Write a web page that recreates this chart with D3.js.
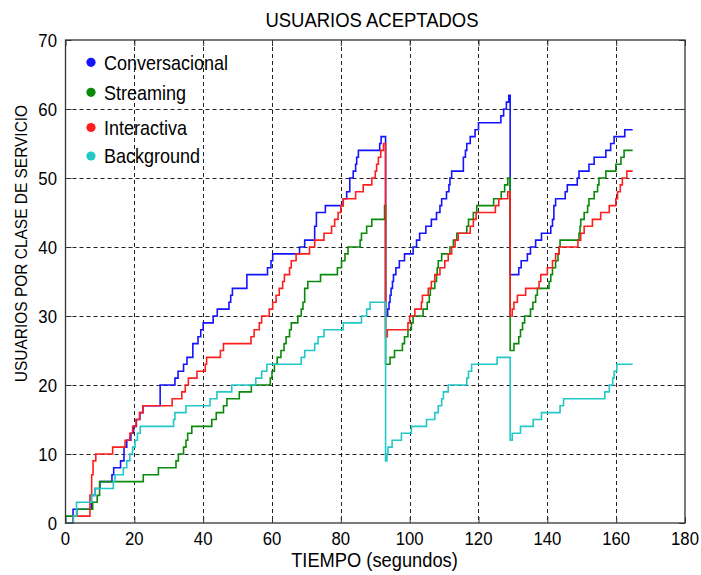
<!DOCTYPE html>
<html>
<head>
<meta charset="utf-8">
<script src="https://cdn.jsdelivr.net/npm/d3@7"></script>
<style>
  body { margin: 0; background: #fff; }
  text { font-family: "Liberation Sans", Arial, sans-serif; fill: #000; }
</style>
</head>
<body>
<svg id="chart" width="701" height="575"></svg>
<script>
// Axis ticks
const xTicks = d3.range(0, 181, 20);
const yTicks = d3.range(0, 71, 10);

// Series labels and colours (legend order = drawing order)
const seriesNames = ["Conversacional", "Streaming", "Interactiva", "Background"];
const seriesColors = ["#1414ff", "#0a8a0a", "#ff1e1e", "#22c8c8"];

// Accepted users per class: [time (s), users] — step series
const conversacional = [[0,0],[2.2,2],[7.5,4],[8.5,5],[10,6],[13.5,7],[14,8],[16,9],[17,11],[17.8,12],[19,13],[19.8,14],[20.6,15],[21.6,16],[22.5,17],[27.5,20],[31.8,21],[32.7,22],[34.3,23],[35.3,24],[37,26],[38.5,27],[39.3,28],[40,29],[42.9,30],[44.1,31],[47.5,32],[48,33],[48.5,34],[52.7,36],[58.7,37],[59.7,38],[60.2,39],[68,40],[69.5,41],[72.4,43],[72.9,45],[75.5,46],[80.7,47],[81.7,48],[82.6,50],[83.6,51],[84.3,52],[84.6,53],[85.1,54],[91.3,55],[91.7,56],[93,30],[93.6,31],[94,32],[94.3,33],[94.6,34],[95,35],[95.3,36],[96,37],[97,38],[98.5,39],[101,40],[102,41],[102.9,42],[104.7,43],[106.3,44],[107.8,45],[108.8,46],[109.3,47],[110.7,48],[111.4,49],[111.7,50],[112.2,51],[115.6,53],[116.2,54],[116.6,55],[117.6,56],[119,57],[120,58],[126.5,59],[127.3,60],[128.1,61],[128.8,62],[129.2,36],[131.7,37],[132.4,38],[134.2,39],[135.1,40],[136.6,41],[138.3,42],[141,43],[141.5,44],[141.9,46],[142.4,47],[145.2,48],[145.8,49],[148.7,50],[149.2,51],[152.1,52],[153.6,53],[157,54],[158.4,55],[159.4,56],[162.5,57],[164.8,57]];

const streaming = [[0,1],[3.3,2],[7.9,3],[9.2,4],[9.9,6],[22.6,7],[27,8],[32.1,9],[32.8,10],[34.3,11],[35,12],[35.5,13],[36.7,14],[42.5,15],[43.8,16],[45.9,17],[46.9,18],[50.5,19],[54,20],[59.5,21],[60,22],[60.7,23],[61.5,24],[62.6,25],[63.5,26],[64.1,27],[65.1,28],[65.6,29],[67.5,30],[68.5,31],[69,32],[69.5,34],[70.4,35],[74.1,36],[79,37],[80.2,38],[81.2,39],[82.1,40],[85.6,41],[86,42],[87.5,43],[89,44],[92.7,46],[93,23],[94.3,24],[95.6,25],[97.9,26],[98.5,27],[99.5,28],[100.5,29],[101,30],[103.9,31],[105.1,32],[105.7,33],[106,34],[107.3,35],[107.8,36],[108,37],[108.3,38],[109.3,39],[111.7,40],[112.7,41],[113.7,42],[116.6,43],[117.1,44],[118.5,45],[119.5,46],[124.4,47],[126.6,48],[127.6,49],[128.5,50],[129.2,25],[130.3,26],[131.7,27],[132.2,28],[132.8,29],[133.4,30],[135.1,31],[135.8,32],[136.6,33],[137.1,34],[140.5,35],[141,36],[141.5,37],[142.4,38],[143.1,39],[143.4,40],[143.7,41],[149.2,42],[149.5,43],[149.7,44],[150.7,45],[151.7,46],[152.1,47],[153.6,48],[154.6,49],[155,50],[157,51],[159.9,52],[161.4,53],[162.3,54],[164.8,54]];

const interactiva = [[0,0],[2.2,1],[7.1,4],[7.6,7],[8,9],[8.8,10],[13.7,11],[17.3,12],[18.7,13],[19.5,14],[20.5,15],[21.5,16],[22.5,17],[31,18],[33.8,19],[34.8,20],[35.7,21],[38.2,22],[40.6,23],[41,24],[45,25],[45.9,26],[53.9,27],[54.8,28],[56.3,29],[57,30],[59.2,31],[60.2,32],[61.2,33],[62.1,34],[63.1,35],[63.6,36],[65.1,37],[65.6,38],[67,39],[70.9,40],[72.4,41],[75.1,42],[77.3,43],[78.2,44],[79.2,45],[80,46],[80.7,47],[84.3,48],[86.5,49],[89,50],[90,51],[90.4,52],[90.9,53],[91.6,54],[92.4,55],[93,27],[93.5,28],[99.5,29],[100,30],[101.5,31],[103.4,32],[103.7,33],[105.4,34],[106.3,35],[107.3,36],[108.8,37],[110.2,38],[111.2,39],[112.2,40],[113.2,41],[114.1,42],[117.6,43],[118.5,44],[119.3,45],[124.9,46],[125.9,47],[128.5,48],[129.2,30],[129.8,31],[130.3,32],[131.3,33],[133.7,34],[137.6,35],[138.1,36],[140,37],[141.5,38],[142.4,39],[143.4,40],[148.9,41],[149.7,42],[150.7,43],[153.1,44],[155.5,45],[158,46],[159.9,47],[160.4,48],[161.2,49],[161.8,50],[163.1,51],[164.8,51]];

const background = [[0,0],[2.3,1],[3.2,3],[7.6,4],[8.5,5],[13.9,6],[14.4,7],[16.8,8],[17.8,9],[18.7,10],[19.5,11],[20.2,12],[20.9,13],[21.7,14],[31.4,15],[31.8,16],[35,17],[42,18],[44,19],[48.3,20],[55.3,21],[57,22],[58.5,23],[68.5,24],[69.5,25],[72.4,26],[73.4,27],[75.1,28],[80.7,29],[86,30],[87.5,31],[88.5,32],[93,9],[93.4,10],[93.7,11],[94.9,12],[97.6,13],[100.5,14],[104.9,15],[107.3,16],[108.3,17],[109.3,18],[109.8,19],[111.2,20],[116.6,21],[117.1,22],[118,23],[125.4,24],[129.2,12],[129.8,13],[132.2,14],[135.9,15],[138.3,16],[143.7,17],[144.7,18],[156.7,19],[158,20],[159,21],[159.4,22],[160.2,23],[164.8,23]];

const seriesData = [conversacional, streaming, interactiva, background];

// ---- layout ----
const svg = d3.select("#chart");
const box = { left: 65.5, right: 685, top: 40, bottom: 523 };

const x = d3.scaleLinear().domain([0, 180]).range([box.left, box.right]);
const y = d3.scaleLinear().domain([0, 70]).range([box.bottom, box.top]);

// helper: text with slightly condensed glyphs
function label(g, str, tx, ty, size, anchor, sx, rot) {
  return g.append("text")
    .attr("transform", `translate(${tx},${ty})` + (rot ? ` rotate(${rot})` : "") + ` scale(${sx},1)`)
    .attr("text-anchor", anchor)
    .style("font-size", size + "px")
    .text(str);
}

// dashed grid
const grid = svg.append("g").attr("stroke", "#222").attr("stroke-width", 1).attr("stroke-dasharray", "4,3");
grid.selectAll("line.v").data(xTicks.slice(1, -1)).join("line")
  .attr("x1", d => Math.round(x(d)) + 0.5).attr("x2", d => Math.round(x(d)) + 0.5)
  .attr("y1", box.top).attr("y2", box.bottom);
grid.selectAll("line.h").data(yTicks.slice(1, -1)).join("line")
  .attr("y1", d => Math.round(y(d)) + 0.5).attr("y2", d => Math.round(y(d)) + 0.5)
  .attr("x1", box.left).attr("x2", box.right);

// inward tick marks on all four sides
const tickLen = 6;
const axes = [
  [d3.axisBottom(x), `translate(0,${box.bottom})`, xTicks],
  [d3.axisTop(x), `translate(0,${box.top})`, xTicks],
  [d3.axisLeft(y), `translate(${box.left},0)`, yTicks],
  [d3.axisRight(y), `translate(${box.right},0)`, yTicks]
];
axes.forEach(([ax, tr, tv]) => {
  const g = svg.append("g").attr("transform", tr)
    .call(ax.tickValues(tv).tickSize(-tickLen).tickFormat(""));
  g.select(".domain").remove();
  g.selectAll(".tick line").attr("stroke", "#333").attr("stroke-width", 1);
});

// step lines
const line = d3.line()
  .x(d => x(d[0]))
  .y(d => y(d[1]))
  .curve(d3.curveStepAfter);

svg.append("g").selectAll("path").data(seriesData).join("path")
  .attr("d", line)
  .attr("fill", "none")
  .attr("stroke", (d, i) => seriesColors[i])
  .attr("stroke-width", 1.6)
  .attr("stroke-linejoin", "miter");

// frame
svg.append("rect")
  .attr("x", box.left).attr("y", box.top)
  .attr("width", box.right - box.left).attr("height", box.bottom - box.top)
  .attr("fill", "none").attr("stroke", "#333").attr("stroke-width", 1.3);

// tick labels
const tl = svg.append("g");
xTicks.forEach(t => label(tl, String(t), x(t), 545, 18.6, "middle", 0.9));
yTicks.forEach(v => label(tl, String(v), 57, y(v) + 6.8, 18.6, "end", 0.9));

// title and axis titles
label(svg, "USUARIOS ACEPTADOS", 372, 26.5, 21, "middle", 0.88);
label(svg, "TIEMPO (segundos)", 374.5, 567, 20, "middle", 0.915);
label(svg, "USUARIOS POR CLASE DE SERVICIO", 27, 243.5, 16.3, "middle", 0.95, -90);

// legend (no frame): coloured dots + names
const legendY = [62.3, 92.3, 127.5, 156];
const lg = svg.append("g");
seriesNames.forEach((n, i) => {
  lg.append("circle").attr("cx", 91).attr("cy", legendY[i]).attr("r", 4.6).attr("fill", seriesColors[i]);
  label(lg, n, 104, legendY[i] + 7.2, 20, "start", 0.9);
});
</script>
</body>
</html>
